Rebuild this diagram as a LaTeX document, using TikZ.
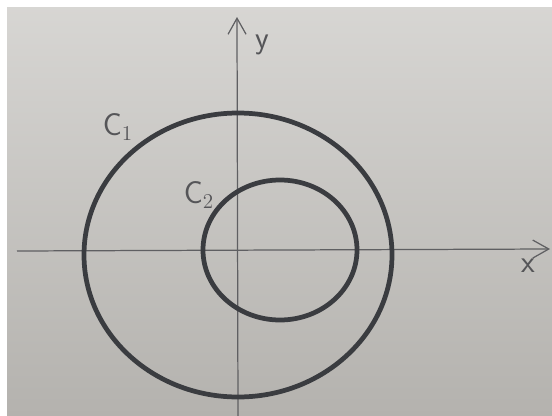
\documentclass[tikz,border=0pt]{standalone}
\usepackage{tikz}
\usetikzlibrary{arrows.meta,positioning}
\definecolor{paper}{RGB}{198,196,192}
\definecolor{paperdark}{RGB}{180,178,174}
\definecolor{ink}{RGB}{58,60,64}
\definecolor{pencil}{RGB}{95,95,98}
\begin{document}
\begin{tikzpicture}[x=0.02cm, y=-0.02cm,
  axis/.style={draw=pencil, line width=0.7pt, -{Straight Barb[length=3.2mm, width=3.6mm]}},
  curve/.style={draw=ink, line width=2.7pt},
  lbl/.style={text=pencil!90!black, font=\sffamily\fontsize{18}{20}\selectfont, inner sep=1pt}]
\useasboundingbox (0,0) rectangle (552,416);
\fill[white] (0,0) rectangle (552,416);
\shade[top color=paper!70!white, bottom color=paperdark] (7,7) rectangle (552,416);

% axes
\coordinate (xs) at (17,251);
\coordinate (xe) at (550,249);
\coordinate (ys) at (238,416);
\coordinate (ye) at (237,17);
\draw[axis] (xs) -- (xe);
\draw[axis] (ys) -- (ye);
\node[lbl] (ylab) at (262,45) {y};
\node[lbl] (xlab) at (528,266) {x};

% curves
\draw[curve] (238,255) ellipse [x radius=154, y radius=142];
\draw[curve] (280,250) ellipse [x radius=77, y radius=70];
\node[lbl] (c1) at (118,127) {C$_1$};
\node[lbl] (c2) at (199,195) {C$_2$};
\end{tikzpicture}
\end{document}
